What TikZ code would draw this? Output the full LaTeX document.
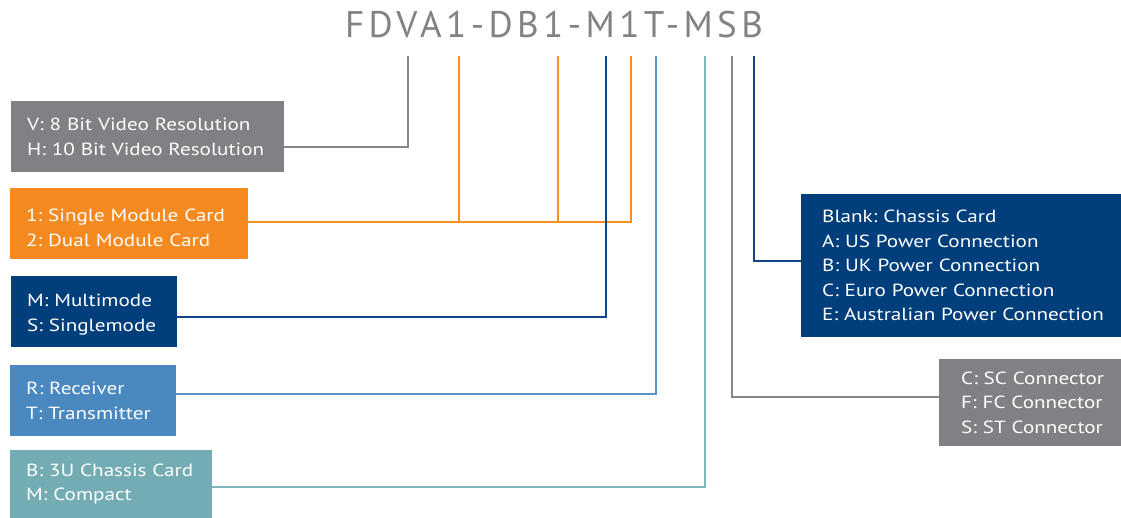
\documentclass[tikz,border=0pt]{standalone}
\usepackage{fontspec}
\setmainfont{PT Sans}
\newfontfamily\boxfont{PT Sans}[FakeStretch=1.2]
\usetikzlibrary{calc}
\frenchspacing
\definecolor{cgray}{HTML}{808184}
\definecolor{corange}{HTML}{F58A21}
\definecolor{cdark}{HTML}{013E7C}
\definecolor{cmed}{HTML}{4A88C0}
\definecolor{cteal}{HTML}{73ADB3}
\definecolor{lgray}{HTML}{85868A}
\definecolor{lorange}{HTML}{F7901E}
\definecolor{ldark}{HTML}{0D4686}
\definecolor{lmed}{HTML}{5A93CC}
\definecolor{lteal}{HTML}{7DB5BC}
\definecolor{ctitle}{HTML}{808285}
\tikzset{
  box/.style={rectangle, inner xsep=16pt, inner ysep=0pt, anchor=north west, align=left,
    text=white, font=\boxfont\fontsize{17.6}{24.5}\selectfont},
  conn/.style={line width=2.2pt},
}
\begin{document}
\begin{tikzpicture}[x=1pt,y=-1pt]
\useasboundingbox (0,0) rectangle (1121,518);
\fill[white] (0,0) rectangle (1121,518);
\node[anchor=base, text=ctitle, font=\fontsize{37}{40}\selectfont\addfontfeature{LetterSpace=12}] (title) at (554,38) {FDVA1-DB1-M1T-MSB};
% boxes
\node[box, fill=cgray, text width=241pt, minimum height=71pt] (vres) at (11,101) {V: 8 Bit Video Resolution\\H: 10 Bit Video Resolution};
\node[box, fill=corange, text width=206pt, minimum height=71pt] (card) at (10,188) {\rule{0pt}{21pt}1: Single Module Card\\2: Dual Module Card};
\node[box, fill=cdark, text width=134pt, minimum height=71pt] (mode) at (11,276) {\rule{0pt}{18.5pt}M: Multimode\\S: Singlemode};
\node[box, fill=cmed, text width=134pt, minimum height=71pt] (rt) at (10,365) {R: Receiver\\T: Transmitter};
\node[box, fill=cteal, text width=170pt, minimum height=68pt] (form) at (10,450) {B: 3U Chassis Card\\M: Compact};
\node[box, fill=cdark, inner xsep=21pt, text width=300pt, minimum height=143pt] (power) at (801,194) {Blank: Chassis Card\\A: US Power Connection\\B: UK Power Connection\\C: Euro Power Connection\\E: Australian Power Connection};
\node[box, fill=cgray, inner xsep=22pt, text width=150pt, minimum height=87pt] (conn) at (939,359) {C: SC Connector\\F: FC Connector\\S: ST Connector};
% connector tops
\coordinate (t1) at (408,56);
\coordinate (t2) at (459,56);
\coordinate (t3) at (558,56);
\coordinate (t4) at (606,56);
\coordinate (t5) at (631,56);
\coordinate (t6) at (656,56);
\coordinate (t7) at (705,56);
\coordinate (t8) at (732,56);
\coordinate (t9) at (754,56);
\coordinate (oj) at ([yshift=1.5pt]card.east);
% connectors
\draw[conn, lgray] (t1) |- ([yshift=-10.5pt]vres.east);
\draw[conn, lorange] (t5) |- (oj);
\draw[conn, lorange] (t2) -- (t2 |- oj);
\draw[conn, lorange] (t3) -- (t3 |- oj);
\draw[conn, ldark] (t4) |- ([yshift=-5.5pt]mode.east);
\draw[conn, lmed] (t6) |- ([yshift=6.5pt]rt.east);
\draw[conn, lteal] (t7) |- ([yshift=-3pt]form.east);
\draw[conn, lgray] (t8) |- ([yshift=5.5pt]conn.west);
\draw[conn, ldark] (t9) |- ([yshift=4.5pt]power.west);
\end{tikzpicture}
\end{document}
